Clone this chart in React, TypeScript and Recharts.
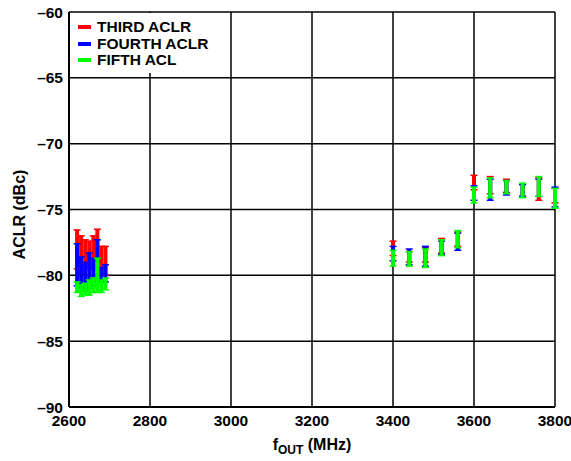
import React from 'react';
import {
  ComposedChart,
  Scatter,
  ErrorBar,
  XAxis,
  YAxis,
  CartesianGrid,
  Legend,
  Label,
} from 'recharts';

// Output frequency (MHz)
const FREQ = [2620, 2630, 2640, 2650, 2660, 2670, 2680, 2690, 3400, 3440, 3480, 3520, 3560, 3600, 3640, 3680, 3720, 3760, 3800];

// THIRD ACLR range (dBc)
const THIRD_MAX = [-76.55, -77.0, -77.3, -77.4, -77.0, -76.5, -77.8, -77.8, -77.4, -78.2, -77.9, -77.2, -76.7, -72.4, -72.5, -72.7, -73.1, -72.6, -73.4];
const THIRD_MIN = [-79.5, -80.0, -80.0, -79.5, -79.5, -79.0, -80.0, -80.0, -78.5, -79.0, -79.0, -78.3, -77.8, -73.5, -73.8, -73.7, -74.0, -74.3, -74.5];

// FOURTH ACLR range (dBc)
const FOURTH_MAX = [-77.6, -78.6, -79.0, -78.3, -78.7, -77.3, -79.4, -79.2, -77.8, -78.0, -77.8, -77.4, -76.8, -73.2, -72.7, -72.8, -73.1, -72.7, -73.3];
const FOURTH_MIN = [-80.8, -81.0, -81.2, -81.0, -80.8, -80.5, -80.5, -80.5, -78.9, -79.2, -79.3, -78.4, -78.1, -74.3, -74.3, -73.9, -74.0, -74.0, -74.8];

// FIFTH ACL range (dBc)
const FIFTH_MAX = [-80.5, -80.7, -80.6, -80.35, -80.2, -78.7, -80.35, -80.2, -78.1, -78.2, -78.0, -77.3, -76.6, -73.3, -72.6, -72.8, -73.0, -72.5, -73.4];
const FIFTH_MIN = [-81.3, -81.6, -81.5, -81.5, -81.3, -81.3, -81.3, -81.1, -79.3, -79.3, -79.4, -78.5, -77.9, -74.5, -74.1, -73.8, -74.1, -74.0, -74.9];

const X_TICKS = [2600, 2800, 3000, 3200, 3400, 3600, 3800];
const Y_TICKS = [-90, -85, -80, -75, -70, -65, -60];

const SERIES = [
  { name: 'THIRD ACLR', color: '#ff0000', min: THIRD_MIN, max: THIRD_MAX },
  { name: 'FOURTH ACLR', color: '#0000ff', min: FOURTH_MIN, max: FOURTH_MAX },
  { name: 'FIFTH ACL', color: '#00ff00', min: FIFTH_MIN, max: FIFTH_MAX },
];

const buildData = (min: number[], max: number[]) =>
  FREQ.map((f, i) => {
    const mid = (min[i] + max[i]) / 2;
    return { f, mid, err: [mid - min[i], max[i] - mid] };
  });

const FONT = '"Liberation Sans", Arial, sans-serif';

const fmt = (v: number) => (v < 0 ? '\u2013' + Math.abs(v) : String(v));

const LegendBox = () => (
  <div
    style={{
      background: '#fff',
      padding: '6px 8px 4px 8px',
      fontFamily: FONT,
      fontWeight: 'bold',
      fontSize: 15.5,
      lineHeight: '16.5px',
      color: '#000',
    }}
  >
    {SERIES.map((s) => (
      <div key={s.name} style={{ display: 'flex', alignItems: 'center', whiteSpace: 'nowrap' }}>
        <span style={{ display: 'inline-block', width: 13, height: 4, background: s.color, marginRight: 6 }} />
        <span>{s.name}</span>
      </div>
    ))}
  </div>
);

const XLabel = (props: any) => {
  const vb = props.viewBox || {};
  const cx = vb.x + vb.width / 2;
  return (
    <text x={cx} y={450} textAnchor="middle" fontFamily={FONT} fontWeight="bold" fontSize={16} fill="#000">
      <tspan>f</tspan>
      <tspan fontSize={12} dy={4}>OUT</tspan>
      <tspan dy={-4}> (MHz)</tspan>
    </text>
  );
};

const YLabel = (props: any) => {
  const vb = props.viewBox || {};
  const cy = vb.y + vb.height / 2 + 5;
  return (
    <text
      x={19}
      y={cy}
      transform={`rotate(-90, 19, ${cy})`}
      textAnchor="middle"
      dominantBaseline="central"
      fontFamily={FONT}
      fontWeight="bold"
      fontSize={16}
      fill="#000"
    >
      ACLR (dBc)
    </text>
  );
};

const NoShape = () => <g />;

export default function App() {
  return (
    <div style={{ position: 'absolute', left: 0, top: 0, background: '#fff' }}>
      <ComposedChart
        width={571}
        height={461}
        margin={{ top: 12, right: 16, left: 0, bottom: 24 }}
      >
        <CartesianGrid stroke="#000" strokeWidth={1.5} horizontalValues={Y_TICKS} verticalValues={X_TICKS} />
        <XAxis
          type="number"
          dataKey="f"
          domain={[2600, 3800]}
          ticks={X_TICKS}
          allowDataOverflow
          height={30}
          tickLine={false}
          tickSize={0}
          tickMargin={8}
          axisLine={{ stroke: '#000', strokeWidth: 2 }}
          tick={{ fontFamily: FONT, fontWeight: 'bold', fontSize: 15.5, fill: '#000' }}
        >
          <Label content={XLabel} />
        </XAxis>
        <YAxis
          type="number"
          domain={[-90, -60]}
          ticks={Y_TICKS}
          allowDataOverflow
          width={69}
          tickLine={false}
          tickSize={0}
          tickMargin={6}
          tickFormatter={fmt}
          axisLine={{ stroke: '#000', strokeWidth: 2 }}
          tick={{ fontFamily: FONT, fontWeight: 'bold', fontSize: 15.5, fill: '#000' }}
        >
          <Label content={YLabel} />
        </YAxis>
        <Legend
          layout="horizontal"
          verticalAlign="middle"
          align="center"
          content={<LegendBox />}
          wrapperStyle={{ top: 13, left: 70, width: 'auto', height: 'auto' }}
        />
        {SERIES.map((s) => (
          <Scatter
            key={s.name}
            name={s.name}
            data={buildData(s.min, s.max)}
            dataKey="mid"
            fill={s.color}
            shape={NoShape}
            isAnimationActive={false}
          >
            <ErrorBar dataKey="err" direction="y" width={0} strokeWidth={4} stroke={s.color} isAnimationActive={false} />
            <ErrorBar dataKey="err" direction="y" width={3.5} strokeWidth={1.5} stroke={s.color} isAnimationActive={false} />
          </Scatter>
        ))}
      </ComposedChart>
    </div>
  );
}
